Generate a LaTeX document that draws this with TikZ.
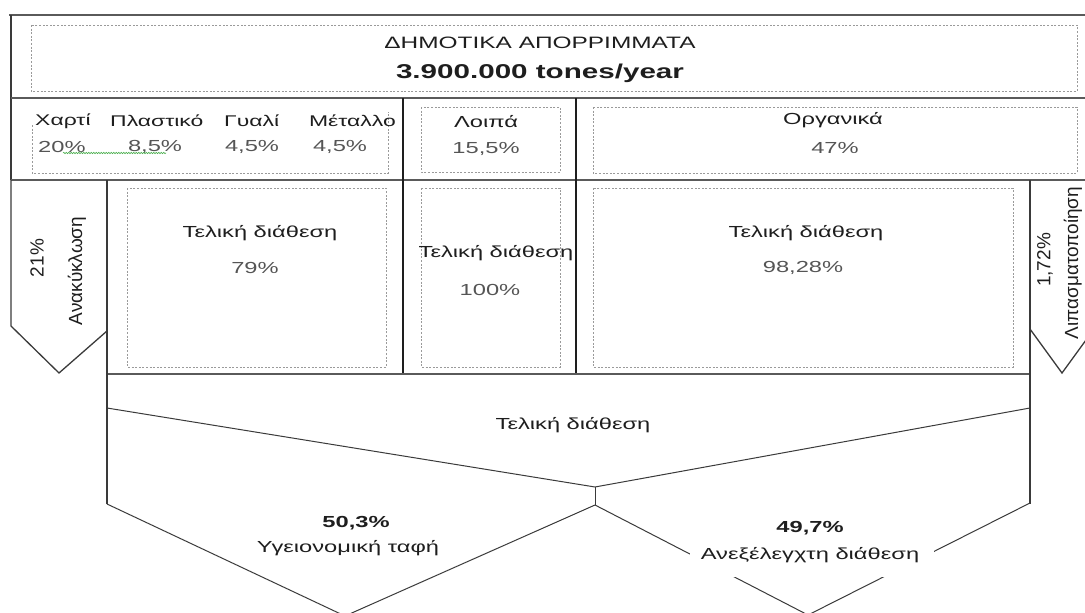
\documentclass[tikz,border=0pt]{standalone}
\usepackage{fontspec}
\setmainfont{Liberation Sans}[FakeStretch=1.48]
\newfontfamily\sidefont{Liberation Sans}
\usetikzlibrary{decorations.pathmorphing}
\definecolor{ink}{HTML}{1E1E1E}
\definecolor{rulegray}{HTML}{3A3A3A}
\definecolor{bandgray}{HTML}{5A5A5A}
\definecolor{softink}{HTML}{555555}
\definecolor{dashgray}{HTML}{9A9A9A}
\definecolor{spellgreen}{HTML}{4CAF50}

\begin{document}
\begin{tikzpicture}[x=1pt,y=-1pt,
  frame/.style={draw=rulegray, line width=1.3pt},
  heavy/.style={draw=ink, line width=2.4pt},
  band/.style={draw=bandgray, line width=2pt},
  slant/.style={draw=rulegray, line width=1pt},
  dashbox/.style={draw=dashgray, line width=0.8pt, dash pattern=on 2pt off 1.6pt},
  txt/.style={inner sep=0pt, text=ink, font=\fontsize{16}{18}\selectfont},
  pct/.style={inner sep=0pt, text=softink, font=\fontsize{16}{18}\selectfont},
  boldtxt/.style={inner sep=0pt, text=ink, font=\fontsize{16}{18}\selectfont\bfseries},
  sidetxt/.style={inner sep=0pt, text=ink, rotate=90, font=\sidefont\fontsize{19}{21}\selectfont},
]
\useasboundingbox (0,0) rectangle (1085,613);
\clip (0,0) rectangle (1085,613);

% frame lines of the table
\draw[band] (9,15) -- (1085,15);
\draw[frame] (11,15) -- (11,180);
\draw[band] (11,98) -- (1085,98);
\draw[band] (11,180) -- (1085,180);
\draw[heavy] (403,98) -- (403,374);
\draw[heavy] (576,98) -- (576,374);
\draw[band] (107,374) -- (1030,374);

% side arrows: recycling (left) and composting (right)
\draw[frame] (11,180) -- (11,326) -- (59,373) -- (107,331);
\draw[frame] (107,180) -- (107,504);
\draw[frame] (1030,180) -- (1030,504);
\draw[frame] (1030,329) -- (1062,373) -- (1094,329);

% funnel of final disposal and its two outlets
\draw[slant] (107,408) -- (595,487) -- (1030,408);
\draw[slant] (595,487) -- (595,505);
\draw[slant] (107,504) -- (345,616) -- (595,505);
\draw[slant] (595,505) -- (808,615) -- (1030,503);

% dashed text boxes
\draw[dashbox] (31,25) rectangle (1077,91);
\draw[dashbox] (32,125) -- (32,173) -- (388,173) -- (388,112);
\draw[dashbox] (421,107) rectangle (560,172);
\draw[dashbox] (593,107) rectangle (1077,173);
\draw[dashbox] (127,188) rectangle (386,367);
\draw[dashbox] (421,188) rectangle (560,367);
\draw[dashbox] (593,188) rectangle (1013,367);

% header
\node[txt, font=\fontsize{16.5}{19}\selectfont] (title) at (540,43) {ΔΗΜΟΤΙΚΑ ΑΠΟΡΡΙΜΜΑΤΑ};
\node[boldtxt, font=\fontsize{20}{22}\selectfont\bfseries] (total) at (540,73) {3.900.000 tones/year};

% composition row
\node[txt, anchor=west, font=\fontsize{15.5}{18}\selectfont] (paper) at (35,121) {Χαρτί};
\node[txt, anchor=west, font=\fontsize{15.5}{18}\selectfont] (plastic) at (110,121) {Πλαστικό};
\node[txt, anchor=west, font=\fontsize{15.5}{18}\selectfont] (glass) at (224,121) {Γυαλί};
\node[txt, anchor=east, font=\fontsize{15.5}{18}\selectfont] (metal) at (396,121) {Μέταλλο};
\node[pct, anchor=west] (paperpct) at (38,147) {20\%};
\node[pct] (plasticpct) at (155,147) {8,5\%};
\node[pct] (glasspct) at (252,147) {4,5\%};
\node[pct] (metalpct) at (340,147) {4,5\%};
\draw[spellgreen, line width=0.6pt, decorate,
      decoration={snake, amplitude=0.7pt, segment length=2.5pt}] (63,153) -- (166,153);
\node[txt] (other) at (486,122) {Λοιπά};
\node[pct] (otherpct) at (486,149) {15,5\%};
\node[txt] (organic) at (833,120) {Οργανικά};
\node[pct] (organicpct) at (835,148) {47\%};

% final disposal row
\node[txt] (dispA) at (260,233) {Τελική διάθεση};
\node[pct] (dispApct) at (255,268) {79\%};
\node[txt] (dispB) at (496,253) {Τελική διάθεση};
\node[pct] (dispBpct) at (490,290) {100\%};
\node[txt] (dispC) at (806,233) {Τελική διάθεση};
\node[pct] (dispCpct) at (803,268) {98,28\%};

% side arrow labels
\node[sidetxt] (recpct) at (37,258) {21\%};
\node[sidetxt] (rec) at (77,271) {Ανακύκλωση};
\node[sidetxt] (compct) at (1045,260) {1,72\%};
\node[sidetxt] (com) at (1073,263) {Λιπασματοποίηση};

% funnel labels
\node[txt] (total disposal) at (573,425) {Τελική διάθεση};
\node[boldtxt] (landfillpct) at (356,523) {50,3\%};
\node[txt] (landfill) at (348,548) {Υγειονομική ταφή};
\node[fill=white, inner sep=0pt, minimum width=244pt, minimum height=36pt] (mask) at (812,559) {};
\node[boldtxt] (dumppct) at (810,528) {49,7\%};
\node[txt] (dump) at (810,555) {Ανεξέλεγχτη διάθεση};
\end{tikzpicture}
\end{document}
